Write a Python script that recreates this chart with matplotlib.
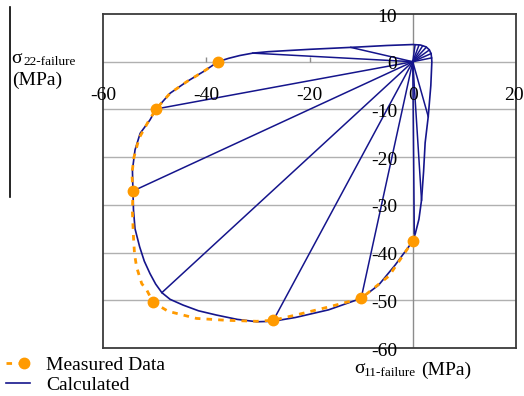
import matplotlib
matplotlib.use('Agg')
import matplotlib.pyplot as plt
from matplotlib.lines import Line2D
from matplotlib.legend_handler import HandlerTuple

# measured failure points (MPa)
meas_x = [-37.7, -49.7, -54.2, -50.3, -27.1, -10.0, 0.0]
meas_y = [0.0, -9.9, -27.1, -50.4, -54.2, -49.6, -37.6]

# dashed curve through the measured points
meas_curve_x = [-37.7, -40.6, -43.8, -47.0, -49.7, -51.2, -53.0, -54.0, -54.4, -54.2,
                -54.3, -54.1, -53.9, -53.5, -52.5, -51.5, -50.3, -47.4, -41.9, -36.0,
                -30.2, -27.1, -22.7, -16.3, -10.0, -4.6, 0.0]
meas_curve_y = [0.0, -2.1, -4.2, -6.6, -9.9, -12.5, -16.0, -20.0, -23.5, -27.1,
                -31.5, -36.7, -40.2, -43.0, -46.5, -47.9, -50.4, -52.3, -53.8, -54.2,
                -54.4, -54.2, -53.1, -51.4, -49.6, -44.9, -37.6]

# calculated failure envelope
calc_x = [0.0, 0.5, 1.2, 1.7, 2.1, 2.4, 3.0, 3.5, 3.7, 3.65, 3.55, 3.2, 2.6, 1.5, 0.0,
          -5.0, -10.2, -15.0, -19.9, -24.0, -28.0, -31.0, -33.5, -35.7, -37.7, -40.6,
          -43.8, -47.0, -49.7, -50.9, -52.8, -53.8, -54.3, -54.2, -54.1, -53.8, -52.9,
          -52.0, -50.9, -49.8, -48.6, -47.0, -44.5, -41.5, -38.0, -34.0, -30.2, -27.1,
          -22.7, -16.3, -10.0, -6.6, -3.4, -0.8, 0.0]
calc_y = [-37.6, -36.0, -33.0, -29.0, -23.0, -17.0, -11.5, -5.0, 0.0, 0.8, 1.7, 2.5, 3.1, 3.5, 3.6,
          3.4, 3.1, 2.85, 2.6, 2.35, 2.1, 1.8, 1.3, 0.7, 0.0, -2.1,
          -4.2, -6.6, -9.9, -12.2, -15.0, -18.5, -22.7, -27.1, -31.0, -35.0, -38.8,
          -41.8, -44.4, -46.6, -48.4, -49.8, -51.0, -52.2, -53.1, -54.0, -54.5, -54.4,
          -53.6, -52.0, -49.6, -46.8, -42.6, -38.8, -37.6]

# load paths from the origin to envelope points
path_end_x = [-49.7, -54.2, -48.6, -27.1, -10.0, 0.3, 1.7, 3.0,
              3.65, 3.55, 3.2, 2.6, 1.9, 1.2, 0.45, -12.0, -31.0]
path_end_y = [-9.9, -27.1, -48.4, -54.4, -49.6, -36.0, -29.0, -11.5,
              0.8, 1.7, 2.45, 3.0, 3.3, 3.45, 3.5, 3.0, 1.8]

xtick_vals = [-60, -40, -20, 0, 20]
ytick_vals = [10, 0, -10, -20, -30, -40, -50, -60]
grid_y = [0, -10, -20, -30, -40, -50]

navy = '#15158c'
orange = '#ff9a00'

plt.rcParams['font.family'] = ['Liberation Serif', 'DejaVu Serif']

W, H = 524, 396
fig = plt.figure(figsize=(W / 100, H / 100), dpi=100)
ax = fig.add_axes([103 / W, 1 - 348 / H, 413 / W, 334 / H])
ax.set_xlim(-60, 20)
ax.set_ylim(-60, 10)
ax.set_xticks([])
ax.set_yticks([])
for s in ax.spines.values():
    s.set_color('#3a3a3a')
    s.set_linewidth(1.3)

for gy in grid_y:
    ax.axhline(gy, color='#b0b0b0', lw=1.0, zorder=0)
ax.axvline(0, color='#8c8c8c', lw=1.0, zorder=0)
ax.vlines(xtick_vals[1:3], 0, 1.05, color='#8c8c8c', lw=1.0, zorder=0)

for ex, ey in zip(path_end_x, path_end_y):
    ax.plot([0, ex], [0, ey], color=navy, lw=1.1, zorder=2)
calc_line, = ax.plot(calc_x, calc_y, color=navy, lw=1.2, zorder=2)

meas_line, = ax.plot(meas_curve_x, meas_curve_y, color=orange, lw=2.0,
                     linestyle=(0, (2, 2.2)), zorder=3)
meas_pts, = ax.plot(meas_x, meas_y, 'o', color=orange, ms=7.5, zorder=4)

for xv in xtick_vals:
    # the last label sits on the right edge of the picture
    xpos = xv - 0.4 if xv == xtick_vals[-1] else xv
    ax.text(xpos, -8.0, str(xv), ha='center', va='baseline', fontsize=14, clip_on=False)
for yv in ytick_vals:
    ax.text(-3.0, yv - 1.6, str(yv), ha='right', va='baseline', fontsize=14, clip_on=False)


def fpos(px, py):
    return px / W, 1 - py / H


fig.text(*fpos(11, 63), 'σ', fontsize=14, va='baseline')
fig.text(*fpos(23, 65), '22-failure', fontsize=9.5, va='baseline')
fig.text(*fpos(12, 85), '(MPa)', fontsize=14, va='baseline')

fig.text(*fpos(354, 373), 'σ', fontsize=14, va='baseline')
fig.text(*fpos(364, 376), '11-failure', fontsize=9.5, va='baseline')
fig.text(*fpos(421, 375), '(MPa)', fontsize=14, va='baseline')

fig.add_artist(Line2D([9.5 / W, 9.5 / W], [1 - 7 / H, 1 - 197 / H], color='black', lw=1.2))

fig.legend([(meas_line, meas_pts), calc_line], ['Measured Data', 'Calculated'],
           handler_map={tuple: HandlerTuple(ndivide=None)},
           loc='lower left', bbox_to_anchor=(6 / W, 2 / H), frameon=False,
           fontsize=14, handlelength=1.25, handletextpad=0.8, labelspacing=0.12,
           borderpad=0, borderaxespad=0, numpoints=1)

fig.savefig('out.png', dpi=100)
